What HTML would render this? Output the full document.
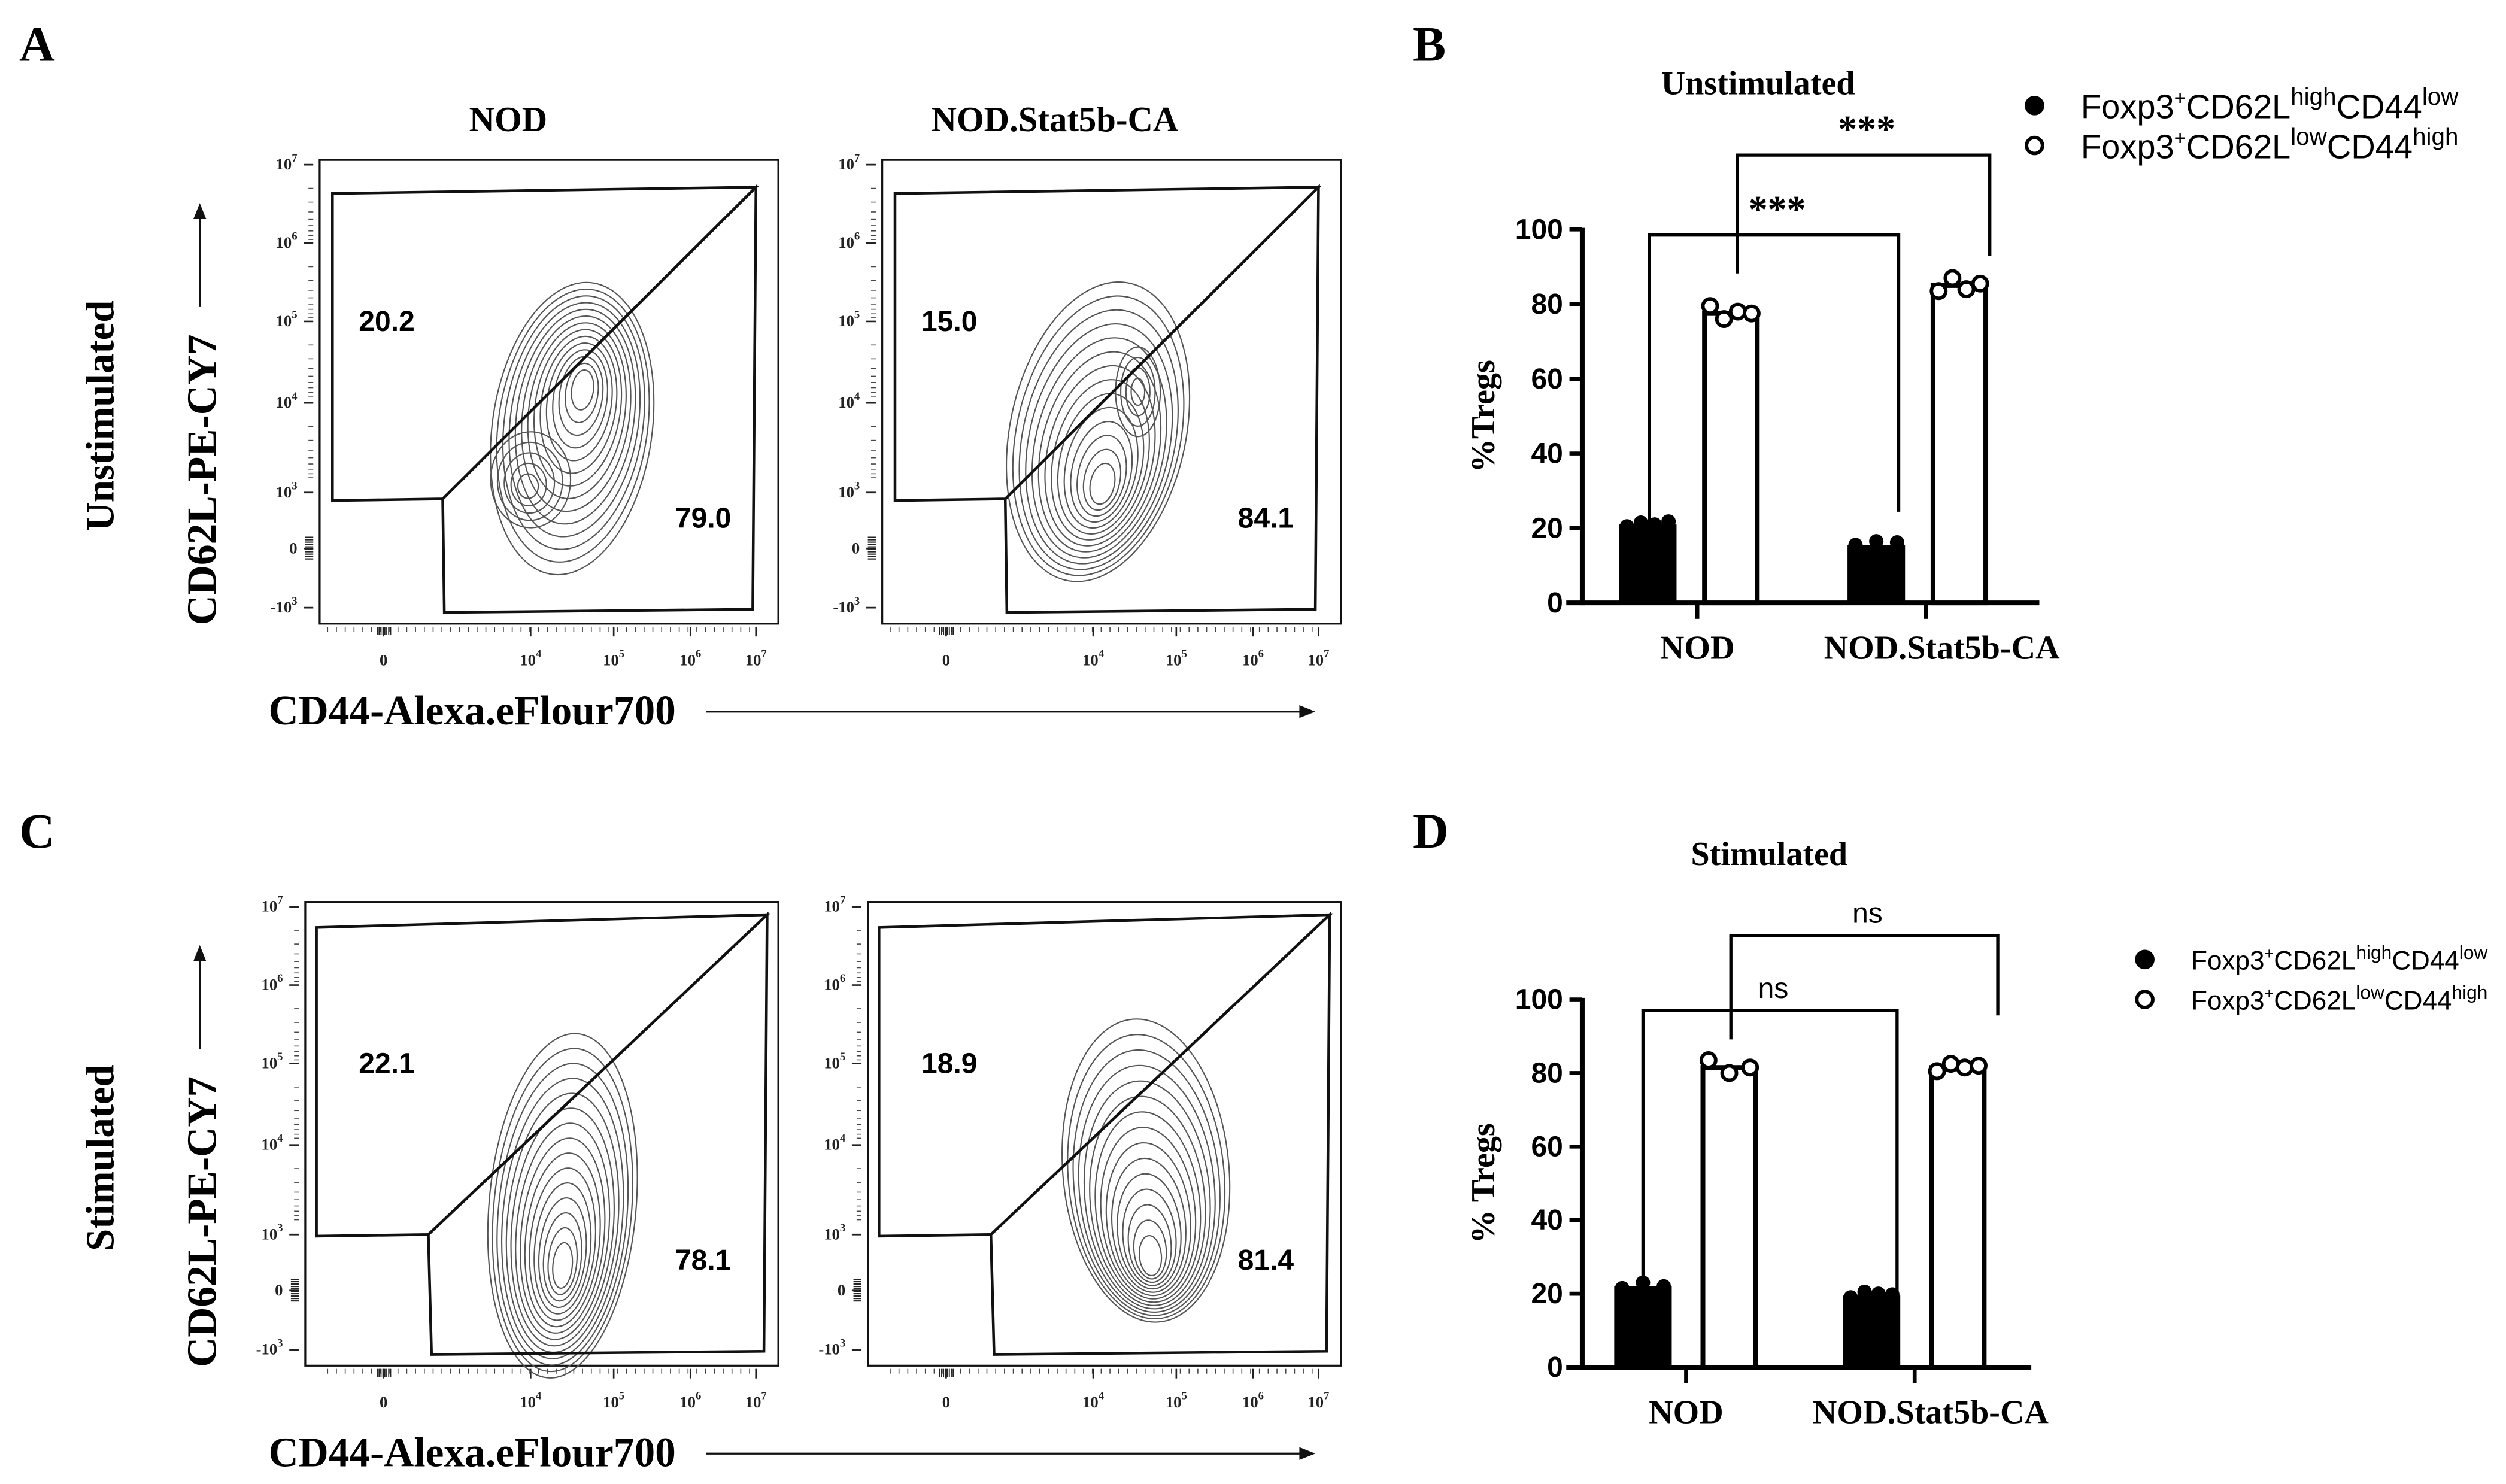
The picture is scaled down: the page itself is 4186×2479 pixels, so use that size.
<!DOCTYPE html>
<html><head><meta charset="utf-8"><style>
html,body{margin:0;padding:0;background:#fff;}
svg{display:block;}
.ser{font-family:"Liberation Serif",serif;font-weight:bold;}
.san{font-family:"Liberation Sans",sans-serif;}
</style></head><body>
<svg id="fig" width="4186" height="2479" viewBox="0 0 1568 928" preserveAspectRatio="none" xmlns="http://www.w3.org/2000/svg">
<g id="root"></g>
</svg>
<script>
// ---------- bar chart data ----------
const groups = ["NOD", "NOD.Stat5b-CA"];
const unstimHighLowBars = [21, 15.5];
const unstimLowHighBars = [77.5, 85];
const unstimHighLowPts = [[20.5, 21.5, 21, 21.8], [15.5, 16.5, 16.2]];
const unstimLowHighPts = [[79.5, 76, 78, 77.5], [83.5, 87, 84, 85.5]];
const stimHighLowBars = [22, 19.5];
const stimLowHighBars = [81.5, 81.5];
const stimHighLowPts = [[21.5, 23, 22], [19, 20.5, 20, 19.8]];
const stimLowHighPts = [[83.5, 80, 81.5], [80.5, 82.5, 81.5, 82]];
const yTicks = [0, 20, 40, 60, 80, 100];
const flowYTickLabels = ["10^7","10^6","10^5","10^4","10^3","0","-10^3"];
const flowXTickLabels = ["0","10^4","10^5","10^6","10^7"];
const gatePercents = [["20.2","79.0"],["15.0","84.1"],["22.1","78.1"],["18.9","81.4"]];

const NS = "http://www.w3.org/2000/svg";
const root = document.getElementById("root");
function el(tag, attrs, parent, text) {
  const e = document.createElementNS(NS, tag);
  for (const k in attrs) e.setAttribute(k, attrs[k]);
  if (text !== undefined) e.textContent = text;
  (parent || root).appendChild(e);
  return e;
}
function powLabel(parent, x, y, s, anchor) {
  const t = el("text", {x: x, y: y, "font-size": 10, "text-anchor": anchor, class: "ser", "font-weight": "normal", fill: "#222"}, parent);
  
  
  if (s.indexOf("^") >= 0) {
    const p = s.split("^");
    el("tspan", {}, t, p[0]);
    el("tspan", {dy: -5, "font-size": 7}, t, p[1]);
  } else t.textContent = s;
}

[["A", 12, 38], ["B", 884, 38], ["C", 12, 530], ["D", 884, 530]].forEach(function(l) {
  const t = el("text", {x: l[1], y: l[2], "font-size": 31, class: "ser"}, root, l[0]);
  
  
});

const flowYs = [103, 152, 201, 252, 308, 343, 380];
const flowXs = [240, 332, 384, 432, 473];
function flowPlot(idx, ox, oy, dy, contour) {
  const g = el("g", {transform: "translate(" + ox + "," + dy + ")"});
  
  
  const fl = idx < 2 ? 200 : 191;
  const f = el("rect", {x: fl + oy, y: 100, width: 487 - fl, height: 290, fill: "none", stroke: "#111", "stroke-width": 1.2}, g);
  
  
  const s = oy;
  const ax = fl - 200;
  flowYs.forEach(function(y, i) {
    el("line", {x1: 190 + s + ax, x2: 196 + s + ax, y1: y, y2: y, stroke: "#222", "stroke-width": 1}, g);
    powLabel(g, 186 + s + ax, y + 3, flowYTickLabels[i], "end");
    if (i < 4) for (let k = 1; k < 9; k++) {
      const yy = y + 49 * Math.log10(10 - k);
      el("line", {x1: 193 + s + ax, x2: 196 + s + ax, y1: yy, y2: yy, stroke: "#444", "stroke-width": 0.6}, g);
    }
  });
  for (let k = 0; k < 10; k++) el("line", {x1: 191 + s + ax, x2: 196 + s + ax, y1: 336 + k * 1.5, y2: 336 + k * 1.5, stroke: "#222", "stroke-width": 0.8}, g);
  flowXs.forEach(function(x, i) {
    el("line", {x1: x + s, x2: x + s, y1: 392, y2: 398, stroke: "#222", "stroke-width": 1}, g);
    powLabel(g, x + s, 416, flowXTickLabels[i], "middle");
  });
  for (let x = 205; x < 470; x += 5.5) el("line", {x1: x + s, x2: x + s, y1: 392, y2: 395, stroke: "#444", "stroke-width": 0.6}, g);
  for (let k = 0; k < 8; k++) el("line", {x1: 236 + k * 1.2 + s, x2: 236 + k * 1.2 + s, y1: 392, y2: 397, stroke: "#222", "stroke-width": 0.7}, g);
  const cg = el("g", {fill: "none", stroke: "#555", "stroke-width": 0.8}, g);
  
  
  contour.forEach(function(c) {
    for (let k = 0; k < c.n; k++) {
      const t = k / c.n;
      const cx = c.cx + (c.ix - c.cx) * t, cy = c.cy + (c.iy - c.cy) * t;
      const rx = c.rx * (1 - t * 0.93), ry = c.ry * (1 - t * 0.93);
      el("ellipse", {cx: cx + s, cy: cy, rx: rx, ry: ry, transform: "rotate(" + c.rot + " " + (cx + s) + " " + cy + ")"}, cg);
    }
  });
  const G = idx < 2 ? {tl: [208, 121], tr: [473, 117], k: [277, 312], l: [208, 313], b: [278, 383], br: [471, 381]}
                    : {tl: [198, 116], tr: [480, 108], k: [268, 308], l: [198, 309], b: [270, 383], br: [478, 381]};
  const p = function(a) { return (a[0] + s) + "," + a[1]; };
  const g1 = el("polygon", {points: [G.tl, G.tr, G.k, G.l].map(p).join(" "), fill: "none", stroke: "#111", "stroke-width": 1.7}, g);
  
  
  const g2 = el("polygon", {points: [G.k, G.b, G.br, G.tr].map(p).join(" "), fill: "none", stroke: "#111", "stroke-width": 1.7}, g);
  
  
  const t1 = el("text", {x: 242 + s, y: 207, "font-size": 18, "font-weight": "bold", "text-anchor": "middle", class: "san"}, g, gatePercents[idx][0]);
  
  
  const t2 = el("text", {x: 440 + s, y: 330, "font-size": 18, "font-weight": "bold", "text-anchor": "middle", class: "san"}, g, gatePercents[idx][1]);
  
  
}
flowPlot(0, 0, 0, 0, [{cx: 358, cy: 268, ix: 365, iy: 242, rx: 50, ry: 92, rot: 8, n: 14}, {cx: 332, cy: 300, ix: 330, iy: 305, rx: 25, ry: 30, rot: 0, n: 5}]);
flowPlot(1, 0, 352, 0, [{cx: 335, cy: 270, ix: 338, iy: 305, rx: 55, ry: 95, rot: 12, n: 14}, {cx: 360, cy: 245, ix: 360, iy: 245, rx: 14, ry: 28, rot: 0, n: 4}]);
flowPlot(2, 0, 0, 464, [{cx: 352, cy: 290, ix: 352, iy: 330, rx: 46, ry: 108, rot: 5, n: 15}]);
flowPlot(3, 0, 352, 464, [{cx: 365, cy: 268, ix: 368, iy: 325, rx: 52, ry: 95, rot: -5, n: 15}]);

[["NOD", 318, 82], ["NOD.Stat5b-CA", 660, 82]].forEach(function(a) {
  const t = el("text", {x: a[1], y: a[2], "font-size": 22, "text-anchor": "middle", class: "ser"}, root, a[0]);
  
  
});
[0, 464].forEach(function(d, i) {
  const r1 = el("text", {x: 0, y: 0, "font-size": 25, "text-anchor": "middle", class: "ser", transform: "translate(71," + (260 + d) + ") rotate(-90)"}, root, i === 0 ? "Unstimulated" : "Stimulated");
  
  
  const r2 = el("text", {x: 0, y: 0, "font-size": 26, "text-anchor": "middle", class: "ser", transform: "translate(135," + (300 + d) + ") rotate(-90)"}, root, "CD62L-PE-CY7");
  
  
  el("line", {x1: 125, x2: 125, y1: 192 + d, y2: 135 + d, stroke: "#111", "stroke-width": 1.2});
  el("polygon", {points: "121," + (137 + d) + " 129," + (137 + d) + " 125," + (127 + d), fill: "#111"});
  const x1 = el("text", {x: 168, y: 453 + d, "font-size": 26, class: "ser"}, root, "CD44-Alexa.eFlour700");
  
  
  el("line", {x1: 442, x2: 815, y1: 445 + d, y2: 445 + d, stroke: "#111", "stroke-width": 1.2});
  el("polygon", {points: "813," + (441 + d) + " 813," + (449 + d) + " 823," + (445 + d), fill: "#111"});
});

function barChart(name, cfg, hlBars, lhBars, hlPts, lhPts, title, ylab) {
  const g = el("g", {});
  
  
  const yS = function(v) { return cfg.y0 + (cfg.y100 - cfg.y0) * v / 100; };
  const tt = el("text", {x: cfg.titleX, y: cfg.titleY, "font-size": 21, "text-anchor": "middle", class: "ser"}, g, title);
  
  
  const yl = el("text", {x: 0, y: 0, "font-size": 21, "text-anchor": "middle", class: "ser", transform: "translate(935," + ((cfg.y0 + cfg.y100) / 2) + ") rotate(-90)"}, g, ylab);
  
  
  el("line", {x1: 990, x2: 990, y1: yS(100) - 1, y2: yS(0) + 1.5, stroke: "#000", "stroke-width": 3}, g);
  el("line", {x1: 980, x2: cfg.xEnd, y1: yS(0), y2: yS(0), stroke: "#000", "stroke-width": 3}, g);
  yTicks.forEach(function(v) {
    el("line", {x1: 982, x2: 990, y1: yS(v), y2: yS(v), stroke: "#000", "stroke-width": 2.5}, g);
    const t = el("text", {x: 978, y: yS(v) + 6, "font-size": 18, "font-weight": "bold", "text-anchor": "end", class: "san"}, g, String(v));
    
    
  });
  groups.forEach(function(gn, i) {
    const cx = cfg.centers[i];
    el("line", {x1: cx, x2: cx, y1: yS(0), y2: yS(0) + 10, stroke: "#000", "stroke-width": 2.5}, g);
    const t = el("text", {x: cx + (i ? 10 : 0), y: yS(0) + 35, "font-size": 21, "text-anchor": "middle", class: "ser"}, g, gn);
    
    
    const w = 36;
    const bx1 = cx + cfg.offA - w / 2, bx2 = cx + cfg.offB - w / 2;
    const b1 = el("rect", {x: bx1, y: yS(hlBars[i]), width: w, height: yS(0) - yS(hlBars[i]), fill: "#000"}, g);
    
    
    const b2 = el("rect", {x: bx2 + 1.5, y: yS(lhBars[i]), width: w - 3, height: yS(0) - yS(lhBars[i]), fill: "#fff", stroke: "#000", "stroke-width": 3}, g);
    
    
    hlPts[i].forEach(function(v, j) {
      const n = hlPts[i].length;
      const c = el("circle", {cx: bx1 + 5 + j * (w - 10) / (n - 1), cy: yS(v), r: 4.5, fill: "#000"}, g);
      
      
    });
    lhPts[i].forEach(function(v, j) {
      const n = lhPts[i].length;
      const c = el("circle", {cx: bx2 + 5 + j * (w - 10) / (n - 1), cy: yS(v), r: 4.5, fill: "#fff", stroke: "#000", "stroke-width": 2.2}, g);
      
      
    });
  });
  cfg.brackets.forEach(function(b) {
    const br = el("polyline", {points: b.x1 + "," + b.ya + " " + b.x1 + "," + b.top + " " + b.x2 + "," + b.top + " " + b.x2 + "," + b.yb, fill: "none", stroke: "#000", "stroke-width": 2}, g);
    
    
    const t = el("text", {x: (b.x1 + b.x2) / 2 + 2, y: b.top - 8, "font-size": b.txt === "ns" ? 18 : 24, "font-weight": "bold", "text-anchor": "middle", class: b.txt === "ns" ? "san" : "ser"}, g, b.txt);
    if (b.txt === "ns") t.setAttribute("font-weight", "normal");
    
    
  });
  const fs = cfg.legFs, sup = fs * 0.72;
  [[true, 0, "high", "low"], [false, cfg.legGap, "low", "high"]].forEach(function(L) {
    const c = el("circle", {cx: cfg.legX, cy: cfg.legY + L[1], r: 5, fill: L[0] ? "#000" : "#fff", stroke: "#000", "stroke-width": 2.2}, g);
    
    
    const t = el("text", {x: cfg.legX + 29, y: cfg.legY + L[1] + fs * 0.38, "font-size": fs, class: "san"}, g);
    
    
    el("tspan", {}, t, "Foxp3");
    el("tspan", {dy: -fs * 0.4, "font-size": sup * 0.85}, t, "+");
    el("tspan", {dy: fs * 0.4}, t, "CD62L");
    el("tspan", {dy: -fs * 0.4, "font-size": sup}, t, L[2]);
    el("tspan", {dy: fs * 0.4}, t, "CD44");
    el("tspan", {dy: -fs * 0.4, "font-size": sup}, t, L[3]);
  });
}
barChart("bar-chart-unstimulated", {y0: 377, y100: 143.5, xEnd: 1276, centers: [1062, 1205], offA: -31, offB: 21,
  titleX: 1100, titleY: 59, legX: 1273, legY: 66, legFs: 21, legGap: 25,
  brackets: [{x1: 1032, x2: 1188, top: 147, ya: 334, yb: 320, txt: "***"}, {x1: 1087, x2: 1245, top: 97, ya: 171, yb: 160, txt: "***"}]},
  unstimHighLowBars, unstimLowHighBars, unstimHighLowPts, unstimLowHighPts, "Unstimulated", "%Tregs");
barChart("bar-chart-stimulated", {y0: 855, y100: 625, xEnd: 1271, centers: [1055, 1198], offA: -27, offB: 27,
  titleX: 1107, titleY: 541, legX: 1342, legY: 600, legFs: 16.5, legGap: 25,
  brackets: [{x1: 1028, x2: 1187, top: 632, ya: 834, yb: 845, txt: "ns"}, {x1: 1083, x2: 1250, top: 585, ya: 650, yb: 635, txt: "ns"}]},
  stimHighLowBars, stimLowHighBars, stimHighLowPts, stimLowHighPts, "Stimulated", "% Tregs");
</script>
</body></html>
